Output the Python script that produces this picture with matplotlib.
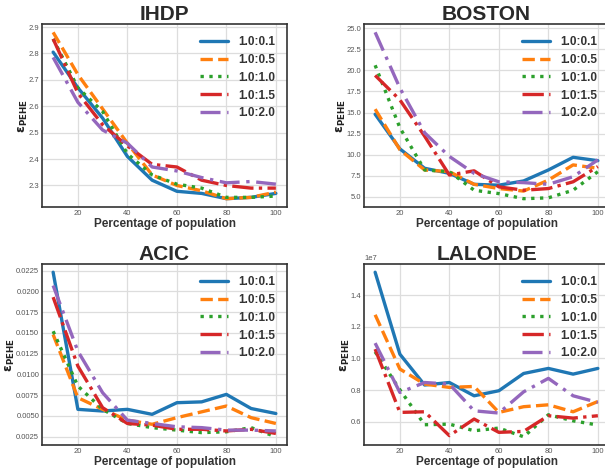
import matplotlib
matplotlib.use("Agg")
import matplotlib.pyplot as plt

plt.style.use("seaborn-v0_8-whitegrid")
plt.rcParams["font.family"] = ["Liberation Sans", "DejaVu Sans"]
plt.rcParams["mathtext.fontset"] = "dejavusans"

x = [10, 20, 30, 40, 50, 60, 70, 80, 90, 100]
labels = ["1.0:0.1", "1.0:0.5", "1.0:1.0", "1.0:1.5", "1.0:2.0"]
styles = ["-", "--", ":", "-.", (0, (6, 2, 1, 2))]
colors = ["#1f77b4", "#ff7f0e", "#2ca02c", "#d62728", "#9467bd"]

ihdp = [
    [2.805, 2.67, 2.555, 2.41, 2.32, 2.278, 2.27, 2.25, 2.255, 2.27],
    [2.88, 2.72, 2.59, 2.46, 2.34, 2.30, 2.28, 2.25, 2.255, 2.275],
    [2.855, 2.67, 2.58, 2.42, 2.34, 2.305, 2.29, 2.255, 2.255, 2.26],
    [2.855, 2.65, 2.53, 2.45, 2.38, 2.37, 2.32, 2.30, 2.29, 2.29],
    [2.785, 2.615, 2.51, 2.46, 2.37, 2.355, 2.33, 2.31, 2.315, 2.305],
]
boston = [
    [14.8, 10.7, 8.4, 7.8, 6.5, 6.4, 6.9, 8.2, 9.7, 9.3],
    [15.4, 10.6, 8.2, 8.0, 6.5, 6.0, 5.7, 7.0, 8.8, 8.4],
    [20.6, 13.2, 8.2, 8.0, 5.8, 5.4, 4.8, 4.9, 5.8, 8.0],
    [19.4, 16.5, 12.2, 7.6, 8.1, 6.2, 5.8, 6.0, 6.8, 8.6],
    [24.5, 17.9, 12.6, 9.8, 7.8, 6.8, 6.7, 6.5, 7.4, 9.4],
]
acic = [
    [0.0223, 0.0058, 0.0056, 0.0058, 0.0052, 0.0066, 0.0067, 0.0076, 0.0059, 0.0053],
    [0.0148, 0.0072, 0.0058, 0.0045, 0.0040, 0.0048, 0.0055, 0.0062, 0.0048, 0.0041],
    [0.0152, 0.0086, 0.0058, 0.0041, 0.0036, 0.0033, 0.0030, 0.0031, 0.0036, 0.0025],
    [0.0193, 0.0110, 0.0060, 0.0041, 0.0039, 0.0034, 0.0034, 0.0032, 0.0034, 0.0029],
    [0.0207, 0.0128, 0.0078, 0.0045, 0.0041, 0.0037, 0.0036, 0.0033, 0.0033, 0.0032],
]
lalonde = [
    [1.545, 1.027, 0.832, 0.848, 0.764, 0.796, 0.905, 0.937, 0.901, 0.937],
    [1.276, 0.933, 0.838, 0.817, 0.823, 0.659, 0.695, 0.707, 0.663, 0.728],
    [1.042, 0.802, 0.581, 0.585, 0.543, 0.560, 0.505, 0.644, 0.606, 0.579],
    [1.059, 0.659, 0.663, 0.512, 0.617, 0.533, 0.539, 0.638, 0.623, 0.638],
    [1.097, 0.785, 0.848, 0.838, 0.669, 0.655, 0.789, 0.874, 0.764, 0.722],
]
lalonde = [[v * 1e7 for v in row] for row in lalonde]

panels = [("IHDP", ihdp), ("BOSTON", boston), ("ACIC", acic), ("LALONDE", lalonde)]
W, H = 605, 472
boxes = [(42, 24, 245, 183), (364, 24, 245, 183),
         (42, 264, 245, 181), (364, 264, 245, 181)]

fig = plt.figure(figsize=(W / 100, H / 100), dpi=100)
for (title, data), (l, t, w, h) in zip(panels, boxes):
    ax = fig.add_axes([l / W, 1 - (t + h) / H, w / W, h / H])
    for ys, lab, ls, c in zip(data, labels, styles, colors):
        ax.plot(x, ys, linestyle=ls, color=c, lw=2.4, label=lab)
    ax.set_title(title, fontsize=15, fontweight="bold", color="#2a2a2a", pad=3)
    ax.set_xlabel("Percentage of population", fontsize=8.5, fontweight="bold",
                  color="#333333", labelpad=1)
    ax.set_ylabel(r"$\mathbf{\epsilon_{PEHE}}$", fontsize=9, color="#222222",
                  labelpad=-1)
    ax.set_xticks([20, 40, 60, 80, 100])
    ax.tick_params(labelsize=5.5, colors="#555555", pad=2)
    ax.yaxis.get_offset_text().set_fontsize(5.5)
    ax.yaxis.get_offset_text().set_color("#555555")
    for s in ax.spines.values():
        s.set_edgecolor("#333333")
        s.set_linewidth(1.2)
    ax.grid(color="#dddddd", lw=0.9)
    leg = ax.legend(loc="upper right", frameon=False, handlelength=2.3,
                    fontsize=8.5, labelspacing=0.5, borderaxespad=0.6,
                    handletextpad=0.9)
    for txt in leg.get_texts():
        txt.set_fontweight("bold")
        txt.set_color("#333333")

fig.savefig("out.png", dpi=100)
